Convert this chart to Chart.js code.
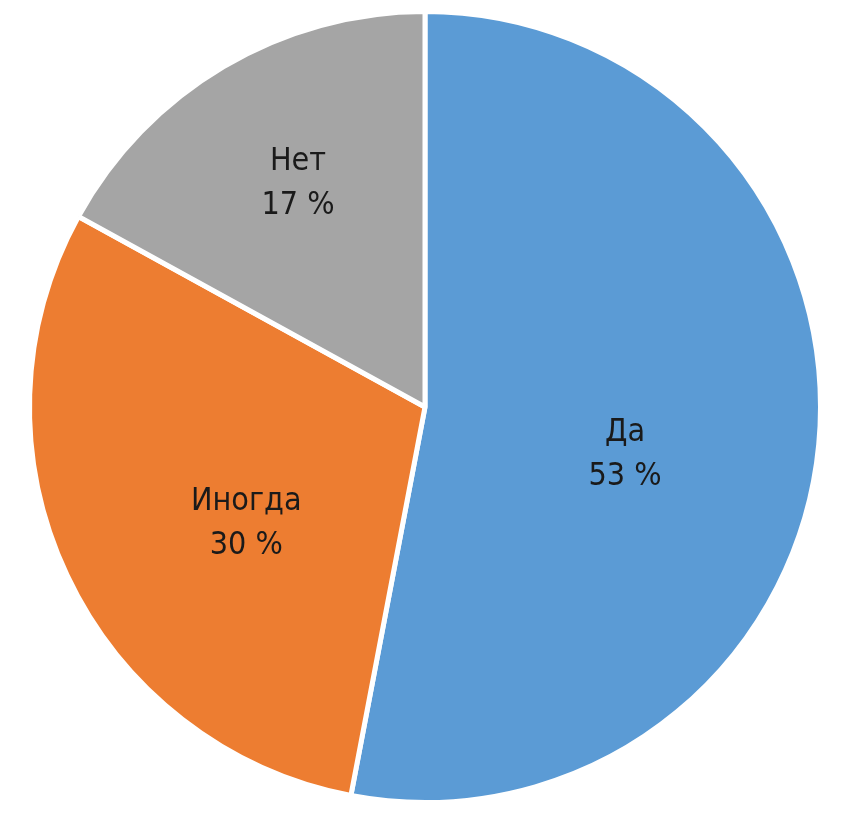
<!DOCTYPE html>
<html>
<head>
<meta charset="utf-8">
<script src="https://cdn.jsdelivr.net/npm/chart.js@4.4.0/dist/chart.umd.min.js"></script>
<style>
    html, body { margin: 0; padding: 0; background: #ffffff; }
    #wrap { width: 851px; height: 821px; position: relative; }
</style>
</head>
<body>
<div id="wrap"><canvas id="chart0"></canvas></div>
<script>
const labels = ["Да", "Иногда", "Нет"];
const values = [53, 30, 17];
const colors = ["#5b9bd5", "#ed7d31", "#a5a5a5"];

// label placement: fraction of radius and angle nudge (deg) per slice
const labelRadius = [0.52, 0.54, 0.65];
const labelTurn = [8, -8, 1];

const sliceLabels = {
    id: "sliceLabels",
    afterDatasetsDraw(chart) {
        const ctx = chart.ctx;
        const meta = chart.getDatasetMeta(0);
        ctx.save();
        ctx.font = '32px "Liberation Sans Narrow", "DejaVu Sans Condensed", sans-serif';
        ctx.fillStyle = "#1a1a1a";
        ctx.textAlign = "center";
        ctx.textBaseline = "middle";
        meta.data.forEach((arc, i) => {
            const p = arc.getProps(["x", "y", "startAngle", "endAngle", "outerRadius"], true);
            const mid = (p.startAngle + p.endAngle) / 2 + labelTurn[i] * Math.PI / 180;
            const r = p.outerRadius * labelRadius[i];
            const x = p.x + Math.cos(mid) * r;
            const y = p.y + Math.sin(mid) * r;
            ctx.fillText(labels[i], x, y - 22);
            ctx.fillText(values[i] + " %", x, y + 22);
        });
        ctx.restore();
    }
};

const chart = new Chart(document.getElementById("chart0").getContext("2d"), {
    type: "pie",
    data: {
        labels: labels,
        datasets: [{
            data: values,
            backgroundColor: colors,
            borderColor: "#ffffff",
            borderWidth: 5,
        }],
    },
    options: {
        responsive: true,
        maintainAspectRatio: false,
        animation: false,
        layout: {
            padding: { left: 27, right: 28, top: 9, bottom: 16 },
        },
        plugins: {
            legend: { display: false },
            tooltip: { enabled: false },
        },
    },
    plugins: [sliceLabels],
});
</script>
</body>
</html>
